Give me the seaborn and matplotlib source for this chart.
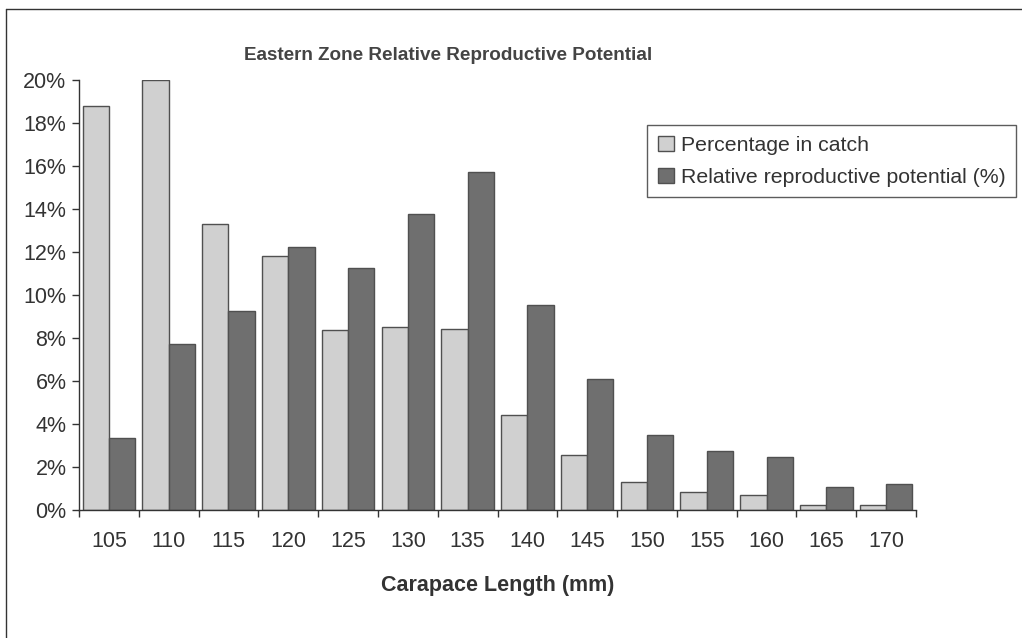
import matplotlib
matplotlib.use("Agg")
import matplotlib.pyplot as plt
import seaborn as sns
import pandas as pd
from matplotlib.ticker import FuncFormatter, FixedLocator
from matplotlib.lines import Line2D

sizes = ["105", "110", "115", "120", "125", "130", "135", "140", "145", "150", "155", "160", "165", "170"]
pct_catch = [18.8, 20.0, 13.3, 11.8, 8.35, 8.5, 8.4, 4.4, 2.55, 1.3, 0.85, 0.68, 0.25, 0.24]
rel_repro = [3.35, 7.7, 9.25, 12.25, 11.25, 13.75, 15.7, 9.55, 6.1, 3.5, 2.75, 2.45, 1.05, 1.2]
series_names = ["Percentage in catch", "Relative reproductive potential (%)"]

df = pd.DataFrame({
    "size": sizes * 2,
    "value": pct_catch + rel_repro,
    "series": [series_names[0]] * len(sizes) + [series_names[1]] * len(sizes),
})

sns.set_theme(style="white")
plt.rcParams["font.family"] = ["Liberation Sans", "DejaVu Sans"]

fig = plt.figure(figsize=(10.22, 6.38), dpi=100)
ax = fig.add_axes([79 / 1022, 1 - 510 / 638, (916 - 79) / 1022, (510 - 80) / 638])

sns.barplot(data=df, x="size", y="value", hue="series", order=sizes,
            hue_order=series_names, palette=["#d0d0d0", "#6f6f6f"],
            width=0.88, edgecolor="#505050", linewidth=1.0, saturation=1,
            ax=ax)

ax.set_ylim(0, 20)
ax.set_xlim(-0.5, len(sizes) - 0.5)
ax.yaxis.set_major_locator(FixedLocator(list(range(0, 21, 2))))
ax.yaxis.set_major_formatter(FuncFormatter(lambda v, p: f"{int(v)}%"))
ax.set_xlabel("Carapace Length (mm)", fontsize=15.5, fontweight="bold", color="#333333", labelpad=17)
ax.set_ylabel("")

for s in ["top", "right"]:
    ax.spines[s].set_visible(False)
for s in ["left", "bottom"]:
    ax.spines[s].set_color("#333333")
    ax.spines[s].set_linewidth(1.0)

ax.tick_params(axis="y", direction="out", length=5, width=1, color="#333333",
               labelsize=15.5, labelcolor="#333333", pad=4, left=True)
ax.tick_params(axis="x", which="major", length=0, labelsize=15.5, labelcolor="#333333", pad=15)
ax.set_xticks([i + 0.5 for i in range(-1, len(sizes))], minor=True)
ax.tick_params(axis="x", which="minor", direction="out", length=5, width=1, color="#333333", bottom=True)

leg = ax.legend(loc="upper left", bbox_to_anchor=((647 - 79) / (916 - 79), (510 - 125) / (510 - 80)),
                fontsize=15.3, frameon=True, fancybox=False, edgecolor="#333333",
                handlelength=0.75, handleheight=0.75, handletextpad=0.35,
                borderpad=0.5, labelspacing=0.6, borderaxespad=0)
leg.get_frame().set_linewidth(1.0)
for t in leg.get_texts():
    t.set_color("#333333")
leg.set_title(None)

fig.text(448 / 1022, 1 - 55 / 638, "Eastern Zone Relative Reproductive Potential",
         ha="center", va="center", fontsize=13.6, fontweight="bold", color="#444444")

# outer frame (left and top edges visible in the reference)
fig.add_artist(Line2D([6 / 1022, 6 / 1022], [0, 1 - 9 / 638], transform=fig.transFigure, color="#333333", lw=1))
fig.add_artist(Line2D([6 / 1022, 1], [1 - 9 / 638, 1 - 9 / 638], transform=fig.transFigure, color="#333333", lw=1))

fig.savefig("out.png", dpi=100, facecolor="white")
